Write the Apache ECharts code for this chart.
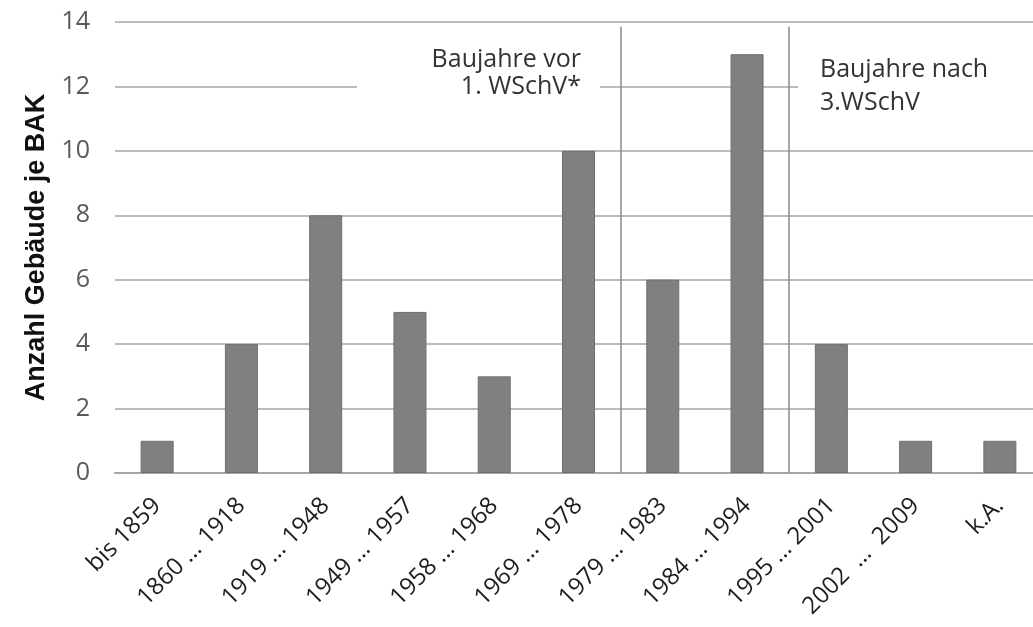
<!DOCTYPE html>
<html>
<head>
<meta charset="utf-8">
<script src="https://cdn.jsdelivr.net/npm/echarts@6/dist/echarts.min.js"></script>
<style>
  html, body { margin: 0; padding: 0; background: #fff; overflow: hidden; width: 1033px; height: 627px; }
  /* the last category runs slightly past the right edge of the page */
  #chart { width: 1042px; height: 627px; }
</style>
</head>
<body>
<div id="chart"></div>
<script>
// Baualtersklassen (BAK) und Anzahl der Gebäude je Klasse
const categories = [
  'bis 1859', '1860 … 1918', '1919 … 1948', '1949 … 1957', '1958 … 1968',
  '1969 … 1978', '1979 … 1983', '1984 … 1994', '1995 … 2001',
  '2002\u00a0\u00a0…\u00a0\u00a02009', 'k.A.'
];
const buildings = [1, 4, 8, 5, 3, 10, 6, 13, 4, 1, 1];

// Achse
const yTicks = { min: 0, max: 14, step: 2 };
const yTitle = 'Anzahl Gebäude je BAK';

// Trennlinien zwischen den Klassen (Grenze nach Kategorie-Index)
const dividers = [6, 8];
const dividerTop = 13.85;

// Beschriftungen der Bereiche
const noteBefore = 'Baujahre vor\n1. WSchV*';
const noteAfter = 'Baujahre nach\n3.WSchV';

const chart = echarts.init(document.getElementById('chart'));

const textFont = '"Open Sans", "DejaVu Sans", sans-serif';
const gridGray = '#a4a4a4';

chart.setOption({
  backgroundColor: '#ffffff',
  animation: false,
  grid: { left: 115, right: 0, top: 22, bottom: 154, containLabel: false },
  xAxis: [
    {
      type: 'category',
      data: categories,
      axisLine: { lineStyle: { color: '#a6a6a6', width: 2 } },
      axisTick: { length: 10, lineStyle: { color: '#a6a6a6', width: 2 } },
      axisLabel: {
        rotate: 45,
        interval: 0,
        margin: 29,
        fontSize: 24,
        color: '#1e1e1e',
        fontFamily: textFont
      }
    },
    {
      // Hilfsachse für die Trennlinien an den Klassengrenzen
      type: 'value',
      min: 0,
      max: categories.length,
      show: false
    }
  ],
  yAxis: {
    type: 'value',
    min: yTicks.min,
    max: yTicks.max,
    interval: yTicks.step,
    name: yTitle,
    nameLocation: 'middle',
    nameGap: 62,
    nameTextStyle: {
      fontSize: 27,
      fontWeight: 'bold',
      color: '#111111',
      fontFamily: '"Liberation Sans", Arial, sans-serif'
    },
    axisLine: { show: false },
    axisTick: { show: false },
    axisLabel: {
      margin: 25,
      fontSize: 25,
      color: '#595959',
      fontFamily: textFont
    },
    splitLine: { lineStyle: { color: gridGray, width: 1.5 } }
  },
  series: [
    {
      type: 'bar',
      data: buildings,
      barWidth: 33,
      itemStyle: { color: '#808080', borderColor: '#6e6e6e', borderWidth: 1 }
    },
    {
      type: 'line',
      xAxisIndex: 1,
      data: [],
      silent: true,
      markLine: {
        symbol: 'none',
        silent: true,
        label: { show: false },
        lineStyle: { color: '#8a8a8a', width: 1.5, type: 'solid' },
        data: dividers.map(d => [{ coord: [d, dividerTop] }, { coord: [d, 0] }])
      }
    }
  ]
});

// Bereichsbeschriftungen mit weißem Hintergrund über den Gitterlinien
chart.setOption({
  graphic: [
    {
      type: 'rect',
      shape: { x: 357, y: 42, width: 243, height: 66 },
      style: { fill: '#ffffff' },
      z: 50, silent: true
    },
    {
      type: 'text',
      x: 581, y: 73,
      style: {
        text: noteBefore,
        align: 'right',
        verticalAlign: 'middle',
        font: '25px ' + textFont,
        lineHeight: 27,
        fill: '#333333'
      },
      z: 51, silent: true
    },
    {
      type: 'rect',
      shape: { x: 798, y: 42, width: 250, height: 80 },
      style: { fill: '#ffffff' },
      z: 50, silent: true
    },
    {
      type: 'text',
      x: 820, y: 86,
      style: {
        text: noteAfter,
        align: 'left',
        verticalAlign: 'middle',
        font: '25px ' + textFont,
        lineHeight: 33,
        fill: '#333333'
      },
      z: 51, silent: true
    }
  ]
});
</script>
</body>
</html>
